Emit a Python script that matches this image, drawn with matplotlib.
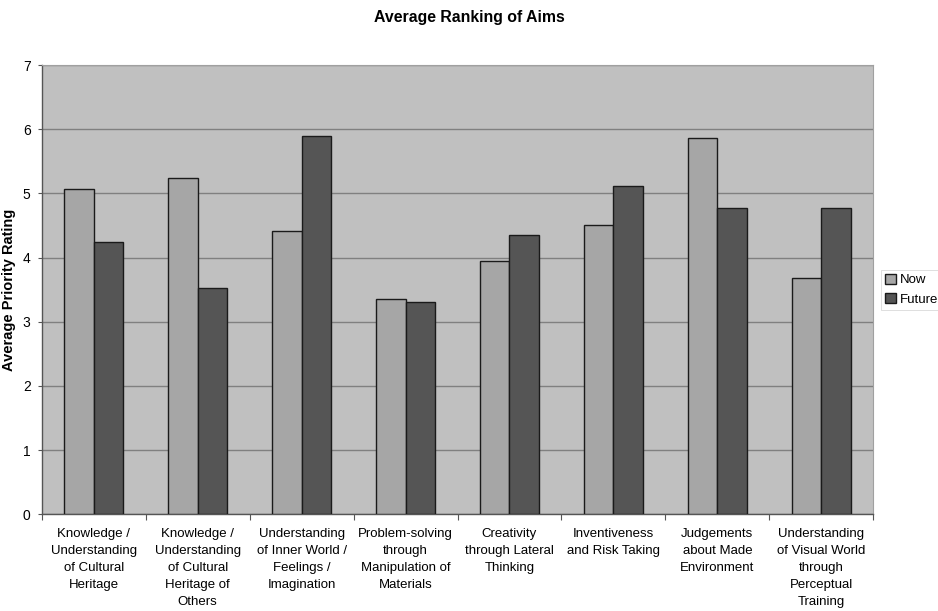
import numpy as np
import matplotlib
matplotlib.use("Agg")
import matplotlib.pyplot as plt

plt.rcParams["font.family"] = ["Liberation Sans", "DejaVu Sans"]

# Aims and their average priority rating, now vs. desired future
aims = [
    "Knowledge /\nUnderstanding\nof Cultural\nHeritage",
    "Knowledge /\nUnderstanding\nof Cultural\nHeritage of\nOthers",
    "Understanding\nof Inner World /\nFeelings /\nImagination",
    "Problem-solving\nthrough\nManipulation of\nMaterials",
    "Creativity\nthrough Lateral\nThinking",
    "Inventiveness\nand Risk Taking",
    "Judgements\nabout Made\nEnvironment",
    "Understanding\nof Visual World\nthrough\nPerceptual\nTraining",
]
now = [5.07, 5.24, 4.41, 3.35, 3.95, 4.50, 5.86, 3.68]
future = [4.24, 3.52, 5.89, 3.31, 4.35, 5.11, 4.77, 4.77]

fig = plt.figure(figsize=(9.38, 6.11), dpi=100)
ax = fig.add_axes([0.0445, 0.1583, 0.8865, 0.7353])
ax.set_facecolor("#c0c0c0")

x = np.arange(len(aims))
w = 0.286
ax.bar(x - w / 2, now, w, color="#a6a6a6", edgecolor="#1a1a1a", linewidth=1.0,
       label="Now", zorder=3)
ax.bar(x + w / 2, future, w, color="#555555", edgecolor="#1a1a1a", linewidth=1.0,
       label="Future", zorder=3)

ax.set_xlim(-0.5, len(aims) - 0.5)
ax.set_ylim(0, 7)
ax.set_yticks(range(0, 8))
ax.yaxis.grid(True, color="#808080", linewidth=1.0, zorder=0)
ax.set_axisbelow(True)

# category ticks sit between groups, labels centred under each group
ax.set_xticks(np.arange(len(aims) + 1) - 0.5)
ax.set_xticklabels([])
ax.set_xticks(x, minor=True)
ax.set_xticklabels(aims, minor=True, fontsize=9.5, linespacing=1.56, va="top")
ax.tick_params(axis="x", which="minor", length=0, pad=10)
ax.tick_params(axis="x", which="major", length=4, color="#555555", direction="out")
ax.tick_params(axis="y", length=3, color="#555555", direction="out", labelsize=10,
               pad=5)

for side in ("top", "right"):
    ax.spines[side].set_color("#a0a0a0")
    ax.spines[side].set_linewidth(0.8)
for side in ("left", "bottom"):
    ax.spines[side].set_color("#555555")
    ax.spines[side].set_linewidth(1.0)

ax.set_ylabel("Average Priority Rating", fontsize=10.5, fontweight="bold")
ax.yaxis.set_label_coords(-0.031, 0.5)
fig.suptitle("Average Ranking of Aims", x=0.5, y=0.984, fontsize=11.4, fontweight="bold")

leg = ax.legend(loc="center left", bbox_to_anchor=(1.0, 0.5), fontsize=9.5,
                frameon=True, fancybox=False, edgecolor="#d0d0d0",
                handlelength=0.8, handleheight=0.8, handletextpad=0.3,
                borderpad=0.3, labelspacing=0.5, borderaxespad=0.6)
leg.get_frame().set_linewidth(0.6)

fig.savefig("out.png", dpi=100)
